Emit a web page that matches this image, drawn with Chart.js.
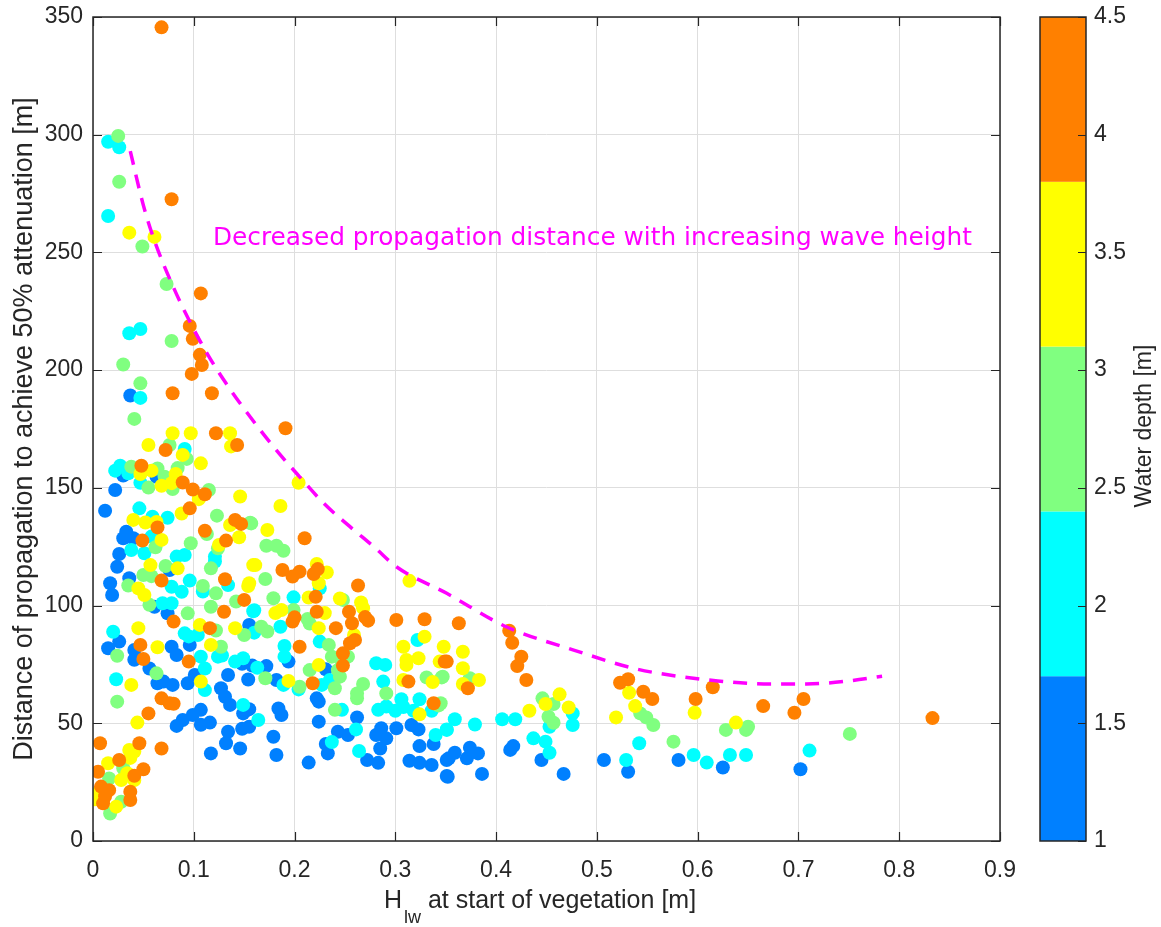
<!DOCTYPE html>
<html>
<head>
<meta charset="utf-8">
<script src="https://cdn.jsdelivr.net/npm/chart.js@4.4.1/dist/chart.umd.min.js"></script>
<style>
  html, body { margin: 0; padding: 0; background: #ffffff; }
  canvas { display: block; }
</style>
</head>
<body>
<canvas id="chart" width="1161" height="927"></canvas>
<script>
// Wave height at the start of vegetation [m] vs distance needed for 50% attenuation [m],
// grouped by water depth class.
const pointsDepth1p5 = [
  [0.037,189.2],[0.030,155.2],[0.063,154.7],[0.022,149.1],[0.012,140.3],[0.033,131.4],[0.030,128.6],[0.040,128.6],[0.026,121.9],
  [0.024,116.5],[0.076,115.1],[0.017,109.5],[0.019,104.5],[0.036,111.6],[0.061,99.5],[0.074,96.7],[0.155,91.8],[0.096,83.3],[0.148,75.3],[0.158,74.5],[0.134,70.5],[0.154,68.6],
  [0.026,84.7],[0.015,81.9],[0.041,81.1],[0.078,82.5],[0.083,79],[0.041,77],[0.056,73.3],[0.064,67],[0.070,67.7],[0.079,66.3],[0.094,67],[0.101,70.5],[0.127,64.9],[0.131,61.3],[0.136,57.8],[0.153,55.7],[0.149,54.2],
  [0.083,48.9],[0.089,51.4],[0.099,53.5],[0.107,55.7],[0.107,49.4],[0.116,50.3],[0.134,46.4],[0.132,41.5],[0.146,39.3],[0.148,47.7],[0.155,48.5],[0.117,37.2],
  [0.194,76.2],[0.172,74.3],[0.231,72.9],[0.182,68.4],[0.155,56],[0.184,56.3],[0.187,53.5],[0.222,60.6],[0.224,59.2],[0.224,50.7],[0.262,52.5],[0.243,46.4],[0.253,45],[0.281,45],[0.286,47.9],[0.291,43.6],[0.285,39.3],[0.301,47.9],[0.316,49.3],[0.323,47.4],[0.324,40.3],[0.338,41.2],[0.179,44.3],[0.182,36.5],[0.214,33.3],[0.231,41.2],[0.233,37.2],[0.272,34.4],[0.283,33.2],[0.314,34.1],[0.324,33.2],[0.336,32.3],[0.351,34.4],[0.351,27.6],
  [0.445,34.4],[0.467,28.5],[0.414,38.7],[0.417,40.3],[0.374,39.6],[0.382,37.2],[0.371,35.1],[0.359,37.5],[0.353,35.1],[0.352,27.3],[0.386,28.5],[0.531,29.4],[0.507,34.4],[0.581,34.4],[0.625,31.2],[0.702,30.5]
];
const pointsDepth2p0 = [
  [0.015,297],[0.026,294.7],[0.015,265.5],[0.036,215.7],[0.047,217.5],[0.047,188.2],[0.091,166.5],[0.027,159.4],[0.022,157.3],[0.035,156.2],[0.047,152.2],[0.046,141.3],[0.059,137.7],[0.074,137.3],[0.058,129.3],[0.038,123.6],[0.051,122.2],[0.091,121.5],[0.083,120.8],[0.121,120.8],
  [0.121,118.7],[0.078,108],[0.088,105.9],[0.096,110.6],[0.109,106],[0.134,108.7],[0.069,101],[0.078,101],[0.160,98],[0.160,88.5],[0.124,78.3],[0.128,78.8],[0.104,87.5],[0.091,88.2],[0.095,86.9],[0.107,78.3],[0.111,73.3],[0.141,76.2],[0.149,77.6],[0.020,88.9],[0.023,68.7],[0.111,64.1],[0.149,57.8],
  [0.225,107.3],[0.199,103.5],[0.159,97.6],[0.322,85.4],[0.186,91],[0.190,82.8],[0.225,84.7],[0.190,78.3],[0.163,73.6],[0.235,68.4],[0.227,66.3],[0.189,66.3],[0.204,64.4],[0.281,75.5],[0.290,74.8],[0.288,67.7],[0.283,55.7],[0.291,57.1],[0.306,60.2],[0.308,56.9],[0.324,60.2],[0.318,55.3],[0.300,55.3],[0.336,55.3],[0.247,55.7],[0.164,51.4],[0.261,47.4],[0.340,45],[0.351,47.4],[0.237,42],[0.264,38.2],
  [0.359,51.7],[0.351,47.2],[0.379,49.5],[0.406,51.7],[0.419,51.7],[0.437,43.6],[0.449,42.2],[0.453,37.5],[0.476,54.2],[0.476,49.3],[0.453,48.5],[0.542,41.5],[0.529,34.4],[0.596,36.5],[0.609,33.3],[0.632,36.5],[0.648,36.5],[0.711,38.4]
];
const pointsDepth2p5 = [
  [0.025,299.5],[0.026,280],[0.049,252.5],[0.073,236.6],[0.078,212.4],[0.030,202.4],[0.047,194.4],[0.041,179.3],[0.076,168.2],[0.093,162.3],[0.084,158.4],[0.038,159],[0.064,158.2],[0.071,154.7],[0.076,153.4],[0.079,149.5],[0.055,150.1],[0.115,149.1],[0.123,138.2],[0.156,135.2],[0.113,130.4],[0.124,124.3],[0.062,124.8],[0.097,126.5],
  [0.072,116.8],[0.117,115.8],[0.035,108.5],[0.050,113],[0.058,112.5],[0.109,108.3],[0.122,105.2],[0.056,100.3],[0.094,96.7],[0.117,99.5],[0.142,101.7],[0.150,87.5],[0.122,89.4],[0.127,82.5],[0.024,78.7],[0.063,71.2],[0.024,59.2],[0.030,30.9],[0.016,26.6],[0.017,11.7],[0.028,16.7],
  [0.157,134.9],[0.172,125.4],[0.182,125.4],[0.189,123.3],[0.171,111.3],[0.179,103.1],[0.248,102.4],[0.199,98.1],[0.213,94.3],[0.215,92.4],[0.173,89],[0.167,91],[0.234,83.3],[0.237,78.3],[0.253,78.3],[0.215,72.6],[0.243,72.6],[0.247,76.2],[0.245,69.8],[0.240,64.9],[0.171,69.1],[0.205,65.5],[0.268,66.7],[0.262,62.7],[0.331,69.5],[0.346,69.5],[0.291,62.7],[0.262,60.6],[0.343,57.6],[0.240,55.7],
  [0.347,69.8],[0.374,69.1],[0.345,58.5],[0.446,60.6],[0.457,58.2],[0.452,52.8],[0.457,50.2],[0.543,54.2],[0.549,52.5],[0.556,49.3],[0.576,42.2],[0.628,47.2],[0.648,47.2],[0.650,48.5],[0.751,45.5]
];
const pointsDepth3p5 = [
  [0.036,258.4],[0.061,256.6],[0.079,173.2],[0.097,173.2],[0.136,173.2],[0.137,167.6],[0.055,168.2],[0.089,164],[0.107,160.4],[0.047,155.9],[0.058,157.3],[0.068,150.9],[0.082,155.9],[0.078,152],[0.105,145.2],[0.146,146.3],[0.088,139.1],[0.040,136.4],[0.052,135.3],[0.063,135.5],[0.136,134.2],[0.145,129],[0.125,125.7],[0.068,127.9],
  [0.057,117.2],[0.084,115.8],[0.159,117.2],[0.045,107.3],[0.051,104.5],[0.154,108.3],[0.141,90.4],[0.106,91.8],[0.117,83.3],[0.045,90.4],[0.064,82.3],[0.038,66.3],[0.107,67.7],[0.044,50.3],
  [0.036,38.7],[0.041,38],[0.037,35.3],[0.015,33],[0.034,28.8],[0.028,25.9],[0.002,17.7],[0.023,14.6],[0.041,25.9],[0.005,20.5],
  [0.204,152.2],[0.186,142.3],[0.173,132.1],[0.161,117.2],[0.222,117.7],[0.232,114.1],[0.224,109.5],[0.314,110.5],[0.155,109.5],[0.214,103.4],[0.245,103],[0.266,101.3],[0.268,98.9],[0.230,96.8],[0.187,98.1],[0.181,96.8],
  [0.224,90.4],[0.259,87.5],[0.329,86.8],[0.224,74.8],[0.194,68],[0.308,82.5],[0.311,76.9],[0.323,77.6],[0.311,74.8],[0.308,68.4],[0.344,76.2],[0.348,82.5],[0.337,67.5],[0.324,53.8],
  [0.367,80.4],[0.367,73.4],[0.383,68.4],[0.367,66.7],[0.449,58.2],[0.463,62.3],[0.472,56.7],[0.433,55.3],[0.532,63],[0.538,57.3],[0.519,52.5],[0.597,54.5],[0.638,50.3]
];
const pointsDepth4p0 = [
  [0.068,345.6],[0.078,272.6],[0.107,232.6],[0.096,218.8],[0.099,213.3],[0.106,206.5],[0.108,202.2],[0.098,198.4],[0.079,190.2],[0.118,190.2],[0.122,173.2],[0.143,168.2],[0.072,166.1],[0.048,159.4],[0.089,152.3],[0.099,149.3],[0.111,147.3],[0.096,141.3],[0.064,133.2],[0.141,136.4],[0.147,134.7],[0.111,131.8],[0.132,127.6],[0.049,127.6],
  [0.068,110.6],[0.131,111.2],[0.080,93.2],[0.130,97.4],[0.150,102.4],[0.116,90.4],[0.095,76.2],[0.047,83.3],[0.050,77.3],
  [0.068,60.6],[0.076,58.5],[0.080,58.3],[0.055,54.2],[0.007,41.5],[0.046,41.5],[0.068,39.3],[0.026,34.4],[0.050,30.5],[0.041,27.7],[0.005,29.4],[0.008,23.1],[0.016,21.6],[0.037,20.9],[0.037,17.4],[0.010,16],[0.012,19],
  [0.191,175.3],[0.210,128.6],[0.188,115.1],[0.198,112.3],[0.205,114.4],[0.219,113.4],[0.223,115.5],[0.263,108.5],[0.221,103.7],[0.254,97.4],[0.222,97.4],[0.270,95.1],[0.301,93.9],[0.329,94.2],[0.200,95],
  [0.198,93.2],[0.241,90.4],[0.257,92.5],[0.273,93.6],[0.260,85.4],[0.255,84],[0.205,82.5],[0.248,79.7],[0.248,74.5],[0.218,67],[0.313,67.7],[0.349,76.2],[0.338,58.5],
  [0.363,92.5],[0.351,76.2],[0.372,64.9],[0.413,89.3],[0.416,84.2],[0.425,78.3],[0.421,74.3],[0.430,68.4],[0.523,67.2],[0.531,68.7],[0.546,63.4],[0.555,60.3],[0.598,60.3],[0.615,65.3],[0.665,57.3],[0.696,54.5],[0.705,60.3],[0.833,52.2]
];

// Envelope: shorter propagation distance as wave height grows
const envelopeX = [0.037,0.05,0.061,0.08,0.098,0.114,0.132,0.152,0.18,0.205,0.23,0.255,0.28,0.301,0.351,0.41,0.477,0.536,0.572,0.62,0.672,0.708,0.75,0.783];
const envelopeY = [293,270,255,235,219,206.5,194.4,182.4,167,154.7,143,133.5,124.5,116.5,105.2,91,81.1,73.4,70.5,68,66.7,66.7,68,70];

// Axis ticks
const xTicks = [0,0.1,0.2,0.3,0.4,0.5,0.6,0.7,0.8,0.9];
const yTicks = [0,50,100,150,200,250,300,350];

// Water depth colour bar
const depthBounds = [1,1.7,2.4,3.1,3.8,4.5];
const depthColors = ['#0080FF','#00FFFF','#80FF80','#FFFF00','#FF8000'];
const depthTicks = [1,1.5,2,2.5,3,3.5,4,4.5];
const depthGroups = [
  { depth: 1.5, points: pointsDepth1p5 },
  { depth: 2.0, points: pointsDepth2p0 },
  { depth: 2.5, points: pointsDepth2p5 },
  { depth: 3.5, points: pointsDepth3p5 },
  { depth: 4.0, points: pointsDepth4p0 }
];

const annotationText = 'Decreased propagation distance with increasing wave height';
const xTitleMain = 'H';
const xTitleSub = 'lw';
const xTitleRest = ' at start of vegetation [m]';
const yTitle = 'Distance of propagation to achieve 50% attenuation [m]';
const cbTitle = 'Water depth [m]';

const AXIS_COLOR = '#262626';
const LABEL_FONT = '"Liberation Sans", Arial, sans-serif';

function colorForDepth(d) {
  for (let i = 0; i < depthColors.length; i++) {
    if (d >= depthBounds[i] && d < depthBounds[i + 1]) return depthColors[i];
  }
  return depthColors[depthColors.length - 1];
}

const scatterSets = depthGroups.map((g, i) => ({
  type: 'scatter',
  label: 'h = ' + g.depth + ' m',
  data: g.points.map(p => ({ x: p[0], y: p[1] })),
  backgroundColor: colorForDepth(g.depth),
  borderWidth: 0,
  pointRadius: 7,
  pointHoverRadius: 7,
  order: 10 - i
}));

const envelopeSet = {
  type: 'line',
  label: 'envelope',
  data: envelopeX.map((x, i) => ({ x: x, y: envelopeY[i] })),
  borderColor: '#FF00FF',
  borderWidth: 3.5,
  borderDash: [14, 10],
  pointRadius: 0,
  fill: false,
  tension: 0.4,
  cubicInterpolationMode: 'monotone',
  order: 0
};

const framePlugin = {
  id: 'frame',
  afterDatasetsDraw(chart) {
    const ctx = chart.ctx;
    const xs = chart.scales.x, ys = chart.scales.y;
    ctx.save();
    // annotation text
    ctx.fillStyle = '#FF00FF';
    ctx.font = '24.8px "DejaVu Sans", Verdana, sans-serif';
    ctx.textAlign = 'left';
    ctx.textBaseline = 'middle';
    ctx.fillText(annotationText, xs.getPixelForValue(0.119), ys.getPixelForValue(256));
    ctx.restore();
  },
  afterDraw(chart) {
    const ctx = chart.ctx;
    const a = chart.chartArea;
    const xs = chart.scales.x, ys = chart.scales.y;
    ctx.save();
    // axes box
    ctx.strokeStyle = AXIS_COLOR;
    ctx.lineWidth = 1.5;
    ctx.strokeRect(a.left, a.top, a.right - a.left, a.bottom - a.top);
    // inward tick marks
    const tl = 9;
    ctx.lineWidth = 1.2;
    ctx.beginPath();
    xTicks.forEach(v => {
      const px = Math.round(xs.getPixelForValue(v)) + 0.5;
      ctx.moveTo(px, a.bottom); ctx.lineTo(px, a.bottom - tl);
      ctx.moveTo(px, a.top); ctx.lineTo(px, a.top + tl);
    });
    yTicks.forEach(v => {
      const py = Math.round(ys.getPixelForValue(v)) + 0.5;
      ctx.moveTo(a.left, py); ctx.lineTo(a.left + tl, py);
      ctx.moveTo(a.right, py); ctx.lineTo(a.right - tl, py);
    });
    ctx.stroke();

    // x-axis title with subscript
    ctx.fillStyle = AXIS_COLOR;
    ctx.textBaseline = 'alphabetic';
    ctx.textAlign = 'left';
    const mainFont = '25px ' + LABEL_FONT;
    const subFont = '18px ' + LABEL_FONT;
    ctx.font = mainFont;
    const wH = ctx.measureText(xTitleMain).width;
    const wR = ctx.measureText(xTitleRest).width;
    ctx.font = subFont;
    const wS = ctx.measureText(xTitleSub).width;
    const total = wH + wS + wR + 2;
    let tx = 540 - total / 2;
    const base = 908;
    ctx.font = mainFont;
    ctx.fillText(xTitleMain, tx, base);
    tx += wH + 2;
    ctx.font = subFont;
    ctx.fillText(xTitleSub, tx, base + 15);
    tx += wS;
    ctx.font = mainFont;
    ctx.fillText(xTitleRest, tx, base);

    // colour bar
    const cbL = 1040, cbR = 1086;
    const cbTop = a.top, cbBot = a.bottom;
    const dMin = depthBounds[0], dMax = depthBounds[depthBounds.length - 1];
    const dy = v => cbBot - (v - dMin) / (dMax - dMin) * (cbBot - cbTop);
    for (let i = 0; i < depthColors.length; i++) {
      const y0 = dy(depthBounds[i + 1]), y1 = dy(depthBounds[i]);
      ctx.fillStyle = depthColors[i];
      ctx.fillRect(cbL, y0, cbR - cbL, y1 - y0);
    }
    ctx.strokeStyle = AXIS_COLOR;
    ctx.lineWidth = 1.5;
    ctx.strokeRect(cbL, cbTop, cbR - cbL, cbBot - cbTop);
    ctx.lineWidth = 1.2;
    ctx.beginPath();
    depthTicks.forEach(v => {
      const py = Math.round(dy(v)) + 0.5;
      ctx.moveTo(cbR, py); ctx.lineTo(cbR - 8, py);
    });
    ctx.stroke();
    ctx.fillStyle = AXIS_COLOR;
    ctx.font = '23px ' + LABEL_FONT;
    ctx.textAlign = 'left';
    ctx.textBaseline = 'middle';
    depthTicks.forEach(v => ctx.fillText(String(v), cbR + 8, dy(v)));
    // colour bar title
    ctx.save();
    ctx.translate(1145, 426);
    ctx.rotate(-Math.PI / 2);
    ctx.textAlign = 'center';
    ctx.textBaseline = 'middle';
    ctx.font = '23px ' + LABEL_FONT;
    ctx.fillText(cbTitle, 0, 0);
    ctx.restore();
    ctx.restore();
  }
};

new Chart(document.getElementById('chart'), {
  type: 'scatter',
  data: { datasets: [envelopeSet].concat(scatterSets) },
  options: {
    responsive: false,
    animation: false,
    devicePixelRatio: 1,
    layout: { padding: { left: 0, right: 161, top: 17, bottom: 0 } },
    plugins: { legend: { display: false }, tooltip: { enabled: false } },
    scales: {
      x: {
        type: 'linear',
        min: 0, max: 0.9,
        afterBuildTicks: s => { s.ticks = xTicks.map(v => ({ value: v })); },
        afterFit: s => { s.height = 86; s.paddingLeft = 0; s.paddingRight = 0; },
        grid: { color: '#DEDEDE', lineWidth: 1, drawTicks: false },
        border: { display: false },
        ticks: {
          color: AXIS_COLOR,
          font: { family: LABEL_FONT, size: 23 },
          padding: 16,
          maxRotation: 0,
          callback: v => String(Number(v.toFixed(1)))
        },
        title: { display: false }
      },
      y: {
        type: 'linear',
        min: 0, max: 350,
        afterBuildTicks: s => { s.ticks = yTicks.map(v => ({ value: v })); },
        afterFit: s => { s.width = 93; s.paddingTop = 0; s.paddingBottom = 0; },
        grid: { color: '#DEDEDE', lineWidth: 1, drawTicks: false },
        border: { display: false },
        ticks: {
          color: AXIS_COLOR,
          font: { family: LABEL_FONT, size: 23 },
          padding: 10,
          callback: v => String(v)
        },
        title: {
          display: true,
          text: yTitle,
          color: AXIS_COLOR,
          font: { family: LABEL_FONT, size: 27 },
          padding: { top: 8, bottom: 0 }
        }
      }
    }
  },
  plugins: [framePlugin]
});
</script>
</body>
</html>
